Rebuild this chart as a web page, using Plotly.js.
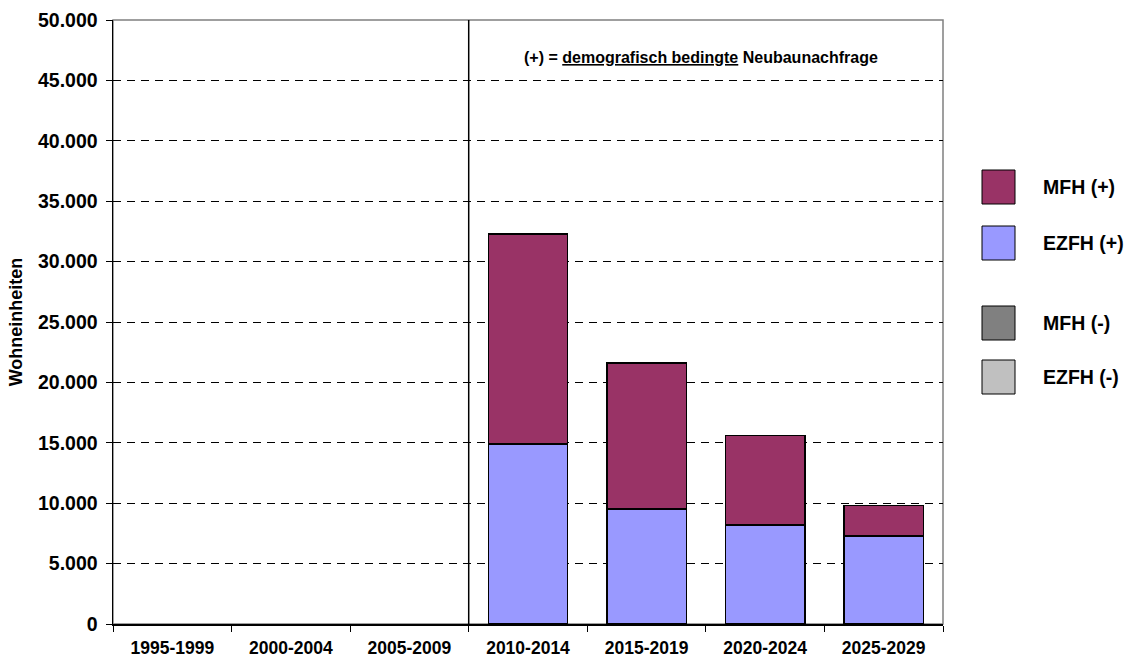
<!DOCTYPE html>
<html>
<head>
<meta charset="utf-8">
<script src="https://cdn.plot.ly/plotly-3.0.1.min.js"></script>
<style>html,body{margin:0;padding:0;background:#fff;}#chart{width:1131px;height:661px;}</style>
</head>
<body>
<div id="chart"></div>
<script>
const categories = ["1995-1999","2000-2004","2005-2009","2010-2014","2015-2019","2020-2024","2025-2029"];
const ezfhPlus = [null, null, null, 14900, 9500, 8200, 7300];
const mfhPlus  = [null, null, null, 17400, 12100, 7400, 2500];
const mfhMinus = [null, null, null, null, null, null, null];
const ezfhMinus = [null, null, null, null, null, null, null];
const seriesNames = ["MFH (+)", "EZFH (+)", "MFH (-)", "EZFH (-)"];
const seriesColors = ["#993366", "#9999FF", "#808080", "#C0C0C0"];
const yTicks = [0,5000,10000,15000,20000,25000,30000,35000,40000,45000,50000];

const FONT = "Arial, 'Liberation Sans', Helvetica, sans-serif";
const mk = (name, y, color) => ({
  type: "bar", name: name, x: categories, y: y,
  marker: {color: color, line: {color: "#000", width: 1.5}},
  showlegend: false, hoverinfo: "x+y+name"
});
const data = [
  mk(seriesNames[3], ezfhMinus, seriesColors[3]),
  mk(seriesNames[2], mfhMinus, seriesColors[2]),
  mk(seriesNames[1], ezfhPlus, seriesColors[1]),
  mk(seriesNames[0], mfhPlus, seriesColors[0])
];

// plot area in pixels
const L = 113, R = 943, T = 20, B = 624;
const px = x => (x - L) / (R - L);
const py = y => (B - y) / (B - T);

const legendTops = [170, 226, 306, 360];
const shapes = [
  {type:"rect", xref:"paper", yref:"paper", x0:0, x1:1, y0:0, y1:1, line:{color:"#808080", width:1.5}, layer:"below"},
  {type:"line", xref:"x", yref:"paper", x0:2.5, x1:2.5, y0:0, y1:1, line:{color:"#000", width:1.5}}
];
const annotations = [
  {xref:"paper", yref:"paper", x:px(701), y:py(57), text:"(+) = <u>demografisch bedingte</u> Neubaunachfrage",
   showarrow:false, font:{family:FONT, size:16, color:"#000", weight:"bold"}, xanchor:"center", yanchor:"middle"}
];
seriesNames.forEach((n, i) => {
  const t = legendTops[i];
  shapes.push({type:"rect", xref:"paper", yref:"paper", x0:px(982), x1:px(1015), y0:py(t+34), y1:py(t),
    fillcolor:seriesColors[i], line:{color:"#000", width:1}});
  annotations.push({xref:"paper", yref:"paper", x:px(1041), y:py(t+17), text:n, showarrow:false,
    xanchor:"left", yanchor:"middle", font:{family:FONT, size:19.5, color:"#000", weight:"bold"}});
});

const layout = {
  width: 1131, height: 661,
  margin: {l: L, r: 1131 - R, t: T, b: 661 - B, pad: 0},
  paper_bgcolor: "#fff", plot_bgcolor: "#fff",
  barmode: "stack", bargap: 0.33,
  separators: ",.",
  font: {family: FONT, color: "#000"},
  showlegend: false,
  xaxis: {
    type: "category", categoryorder: "array", categoryarray: categories,
    showline: true, linecolor: "#000", linewidth: 1.5,
    ticks: "outside", tickson: "boundaries", ticklen: 6, tickcolor: "#000", tickwidth: 1,
    showgrid: false, zeroline: false, ticklabelstandoff: 7,
    tickfont: {family: FONT, size: 17.5, color: "#000", weight: "bold"}
  },
  yaxis: {
    range: [0, 50000], tickvals: yTicks, tickformat: ",.0f",
    showline: true, linecolor: "#000", linewidth: 1.5,
    ticks: "outside", ticklen: 6, tickcolor: "#000", tickwidth: 1,
    showgrid: true, gridcolor: "#000", gridwidth: 1, griddash: "8px,6px",
    zeroline: false, ticklabelstandoff: 4,
    tickfont: {family: FONT, size: 19.5, color: "#000", weight: "bold"},
    title: {text: "Wohneinheiten", font: {family: FONT, size: 18, color: "#000", weight: "bold"}, standoff: 10}
  },
  shapes: shapes,
  annotations: annotations
};
Plotly.newPlot("chart", data, layout, {displayModeBar: false, staticPlot: true});
</script>
</body>
</html>
